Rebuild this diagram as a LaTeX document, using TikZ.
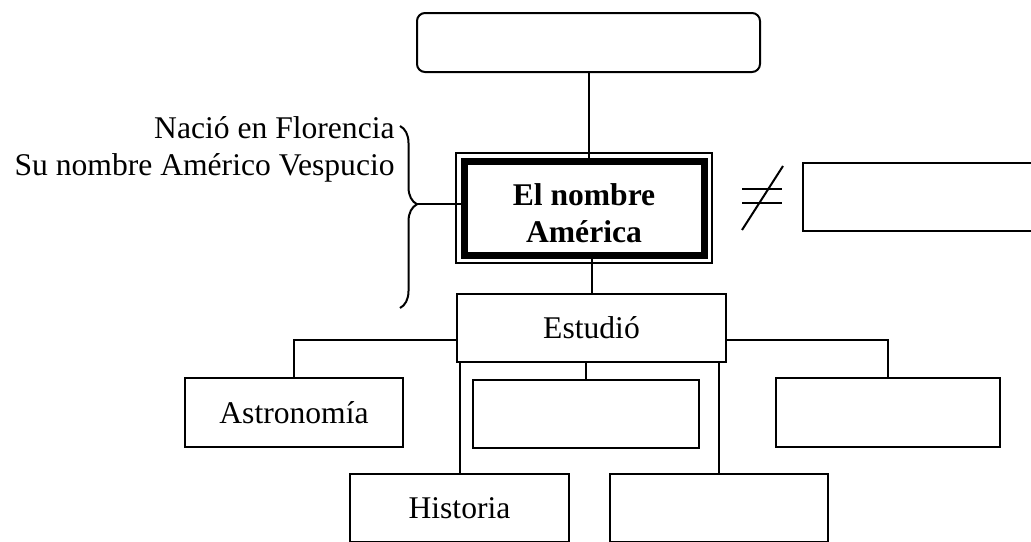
\documentclass[tikz,border=0pt]{standalone}
\usepackage{fontspec}
\setmainfont{Liberation Serif}
\usetikzlibrary{calc, positioning, decorations.pathreplacing}

\begin{document}
\begin{tikzpicture}[x=0.5pt, y=-0.5pt,
  box/.style={draw, line width=1pt, outer sep=0pt, inner sep=0pt,
    font=\fontsize{15.8}{18.5}\selectfont},
  link/.style={line width=1pt}]
% Page frame
\clip (0,0) rectangle (1031,541);
% Top box
\node[box, rounded corners=4pt, minimum width=171.5pt, minimum height=29.5pt] (tema) at (588.5,42.5) {};
% Main box
\node[box, line width=3.5pt, align=center, minimum width=120pt, minimum height=47pt,
  font=\fontsize{15.8}{18.5}\selectfont\bfseries] (nombre) at (584,208) {\rule{0pt}{16pt}El nombre\\América};
\draw[line width=0.8pt] ($(nombre.north west)+(-8,-8)$) rectangle ($(nombre.south east)+(8,8)$);
% Left notes and brace
\node[anchor=east, align=right, inner sep=0pt, font=\fontsize{15.8}{18.5}\selectfont] (datos) at (395,149)
  {Nació en Florencia\\Su nombre Américo Vespucio};
\draw[link, decorate, decoration={brace, amplitude=8.5pt, aspect=0.43}] (400,126) -- (400,308);
\coordinate (pico) at (417,204);
\draw[link] (pico) -- (pico -| nombre.west);
% Not equal sign and box
\draw[link] (742,189) -- (782,189);
\draw[link] (742,203) -- (782,203);
\draw[link] (742,230) -- (783,166);
\node[box, minimum width=120pt, minimum height=34pt] (distinto) at (923,197) {};
% Estudio and branches
\node[box, minimum width=134.5pt, minimum height=34pt] (estudio) at (591.5,328) {Estudió};
\node[box, minimum width=109pt, minimum height=34.5pt] (astro) at (294,412.5) {Astronomía};
\node[box, minimum width=113pt, minimum height=34pt] (medio) at (586,414) {};
\node[box, minimum width=112pt, minimum height=34.5pt] (derecha) at (888,412.5) {};
\node[box, minimum width=109.5pt, minimum height=34pt] (historia) at (459.5,508) {Historia};
\node[box, minimum width=109pt, minimum height=34pt] (abajo) at (719,508) {};
% Connectors
\draw[link] (tema.south) -- (tema.south |- nombre.north);
\draw[link] (estudio.north |- nombre.south) -- (estudio.north);
\draw[link] ($(estudio.west)+(0,12)$) -| (astro.north);
\draw[link] ($(estudio.east)+(0,12)$) -| (derecha.north);
\draw[link] (estudio.south -| medio.north) -- (medio.north);
\draw[link] (estudio.south -| historia.north) -- (historia.north);
\draw[link] (estudio.south -| abajo.north) -- (abajo.north);
\end{tikzpicture}
\end{document}
